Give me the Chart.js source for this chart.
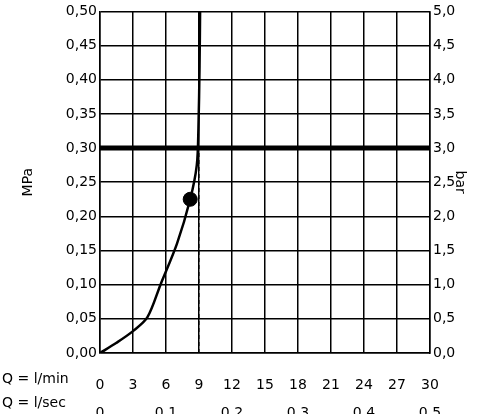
<!DOCTYPE html>
<html><head><meta charset="utf-8">
<script src="https://cdn.jsdelivr.net/npm/chart.js@4/dist/chart.umd.min.js"></script>
<style>html,body{margin:0;background:#fff}#c{width:493px;height:414px}</style>
</head><body><div id="c"><canvas id="chart"></canvas></div>
<script>
var curveQ = [0, 1.5, 3, 4.3, 5.5, 7, 8.2, 8.8, 8.95, 9.05, 9.1];
var curveP = [0, 0.015, 0.032, 0.052, 0.1, 0.16, 0.225, 0.275, 0.33, 0.42, 0.5];
var pointQ = [8.2];
var pointP = [0.225];
var secTicks = [0, 6, 12, 18, 24, 30];
var secLabels = ['0', '0,1', '0,2', '0,3', '0,4', '0,5'];
var nominalP = 0.30;

var font = {family: 'DejaVu Sans', size: 14};
function comma(v, d) { return v.toFixed(d).replace('.', ','); }

var extras = {
    id: 'extras',
    afterDatasetsDraw: function (chart) {
        var ctx = chart.ctx, x = chart.scales.x, y = chart.scales.y;
        ctx.save();
        // dashed line at Q = 9
        ctx.setLineDash([4, 3]);
        ctx.lineWidth = 1;
        ctx.strokeStyle = '#000';
        ctx.beginPath();
        ctx.moveTo(x.getPixelForValue(9), y.getPixelForValue(0));
        ctx.lineTo(x.getPixelForValue(9), y.getPixelForValue(nominalP));
        ctx.stroke();
        ctx.setLineDash([]);
        // thick line at 0.30 MPa
        ctx.lineWidth = 5;
        ctx.beginPath();
        ctx.moveTo(x.left, y.getPixelForValue(nominalP));
        ctx.lineTo(x.right, y.getPixelForValue(nominalP));
        ctx.stroke();
        // row captions
        ctx.fillStyle = '#000';
        ctx.font = '14px DejaVu Sans';
        ctx.textBaseline = 'middle';
        ctx.textAlign = 'left';
        ctx.fillText('Q = l/min', 2, 379);
        ctx.fillText('Q = l/sec', 2, 403);
        ctx.restore();
    }
};

new Chart(document.getElementById('chart'), {
    type: 'scatter',
    data: {
        datasets: [{
            data: curveQ.map(function (q, i) { return {x: q, y: curveP[i]}; }),
            showLine: true, borderColor: '#000', borderWidth: 2.5, pointRadius: 0, tension: 0.3
        }, {
            data: pointQ.map(function (q, i) { return {x: q, y: pointP[i]}; }),
            backgroundColor: '#000', borderColor: '#000', pointRadius: 7
        }]
    },
    options: {
        animation: false, responsive: true, maintainAspectRatio: false,
        layout: {padding: {top: 6, right: 25, left: 20}},
        plugins: {legend: {display: false}, tooltip: {enabled: false}},
        scales: {
            x: {
                type: 'linear', min: 0, max: 30, position: 'bottom',
                ticks: {stepSize: 3, color: '#000', font: font, maxRotation: 0, padding: 24},
                grid: {color: '#000', lineWidth: 1.5, drawTicks: false},
                border: {color: '#000', width: 1.5},
                afterFit: function (s) { s.height = 44; }
            },
            x2: {
                type: 'linear', min: 0, max: 30, position: 'bottom',
                afterBuildTicks: function (s) { s.ticks = secTicks.map(function (v) { return {value: v}; }); },
                ticks: {color: '#000', font: font, maxRotation: 0, autoSkip: false, padding: 0,
                    callback: function (v) { return secLabels[secTicks.indexOf(v)]; }},
                grid: {display: false}, border: {display: false},
                afterFit: function (s) { s.height = 17; }
            },
            y: {
                min: 0, max: 0.5, position: 'left',
                ticks: {stepSize: 0.05, color: '#000', font: font, callback: function (v) { return comma(v, 2); }},
                title: {display: true, text: 'MPa', color: '#000', font: font, padding: 0},
                grid: {color: '#000', lineWidth: 1.5, drawTicks: false},
                border: {color: '#000', width: 1.5},
                afterFit: function (s) { s.width = 80; }
            },
            y2: {
                min: 0, max: 5, position: 'right',
                ticks: {stepSize: 0.5, color: '#000', font: font, callback: function (v) { return comma(v, 1); }},
                title: {display: true, text: 'bar', color: '#000', font: font, padding: 0},
                grid: {display: false, drawTicks: false},
                border: {color: '#000', width: 1.5},
                afterFit: function (s) { s.width = 38; }
            }
        }
    },
    plugins: [extras]
});
</script></body></html>
